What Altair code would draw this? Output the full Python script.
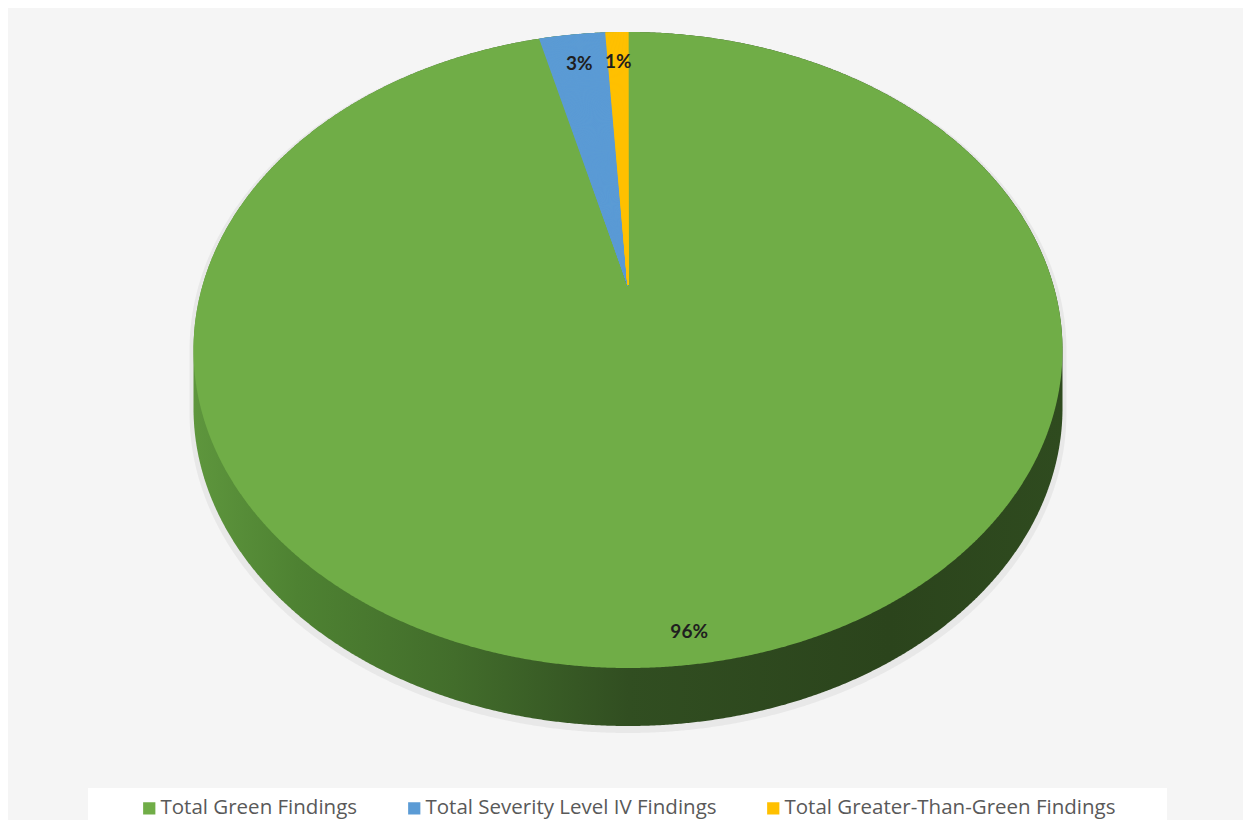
import altair as alt
import numpy as np
import pandas as pd

# ---------------- data ----------------
categories = ["Total Green Findings", "Total Severity Level IV Findings", "Total Greater-Than-Green Findings"]
values = [96, 3, 1]
colors = ["#70AD47", "#5B9BD5", "#FFC000"]

# ---------------- geometry of the tilted (perspective) pie, page pixels ----------------
CX = 628.0        # horizontal centre
APEX_Y = 285.0    # projected centre of the disc
TOP_Y = 32.0      # top of the top face
BOT_Y = 668.0     # bottom of the top face
HALF_W = 434.5    # half width of the top face
DEPTH = 58.0      # thickness of the disc

K = (2 * APEX_Y - TOP_Y - BOT_Y) / (TOP_Y - BOT_Y)
B = APEX_Y - TOP_Y * (1 + K)
A = HALF_W * np.sqrt(1 - K * K)
ECY = (TOP_Y + BOT_Y) / 2
EB = (BOT_Y - TOP_Y) / 2

W, H = 1235, 812
xs = alt.Scale(domain=[8, 8 + W], nice=False)
ys = alt.Scale(domain=[8, 8 + H], nice=False, reverse=True)
col_scale = alt.Scale(domain=categories, range=colors)

slices = pd.DataFrame({"category": categories, "value": values, "order": list(range(len(values)))})

# rays table built from the slice values (angles clockwise from 12 o'clock)
total = float(sum(values))
rows = []
cum = 0.0
for c, v in zip(categories, values):
    start = cum / total * 360.0
    cum += v
    end = cum / total * 360.0
    if v / total < 0.5:
        for t in np.arange(start, end + 1e-9, 0.1):
            rows.append({"category": c, "t": float(t)})
rays = pd.DataFrame(rows)

proj_x = f"{CX} + {A} * datum.r * sin(datum.a) / (1 + {K} * datum.r * cos(datum.a))"
proj_y = f"({APEX_Y} - {B} * datum.r * cos(datum.a)) / (1 + {K} * datum.r * cos(datum.a))"

ell = alt.sequence(-90, 90.001, 0.25, as_="phi")

# soft shadow
shadow = alt.Chart(ell).transform_calculate(
    p="datum.phi * PI / 180",
    X=f"{CX} + {HALF_W + 4} * sin(datum.p)",
    yt=f"{ECY} - {EB} * cos(datum.p)",
    yb=f"{ECY + DEPTH + 5} + {EB + 2} * cos(datum.p)",
).mark_area(color="#000000", opacity=0.05).encode(
    x=alt.X("X:Q", scale=xs, axis=None),
    y=alt.Y("yt:Q", scale=ys, axis=None),
    y2="yb:Q",
)

# side wall
wall = alt.Chart(ell).transform_calculate(
    p="datum.phi * PI / 180",
    X=f"{CX} + {HALF_W} * sin(datum.p)",
    yt=f"{ECY} - {EB} * cos(datum.p)",
    yb=f"{ECY + DEPTH} + {EB} * cos(datum.p)",
).mark_area(
    color=alt.Gradient(
        gradient="linear",
        stops=[
            alt.GradientStop(offset=0.0, color="#5E963D"),
            alt.GradientStop(offset=0.12, color="#4E8232"),
            alt.GradientStop(offset=0.3, color="#426D2B"),
            alt.GradientStop(offset=0.5, color="#314E21"),
            alt.GradientStop(offset=0.8, color="#2B441C"),
            alt.GradientStop(offset=1.0, color="#2F4B1F"),
        ],
        x1=0, x2=1, y1=0, y2=0,
    )
).encode(
    x=alt.X("X:Q", scale=xs, axis=None),
    y=alt.Y("yt:Q", scale=ys, axis=None),
    y2="yb:Q",
)

# top face (largest slice colour)
top = alt.Chart(ell).transform_calculate(
    p="datum.phi * PI / 180",
    X=f"{CX} + {HALF_W} * sin(datum.p)",
    yt=f"{ECY} - {EB} * cos(datum.p)",
    yb=f"{ECY} + {EB} * cos(datum.p)",
).mark_area(color=colors[0]).encode(
    x=alt.X("X:Q", scale=xs, axis=None),
    y=alt.Y("yt:Q", scale=ys, axis=None),
    y2="yb:Q",
)

# thin slices drawn as fans of rays from the projected centre
fans = alt.Chart(rays).transform_calculate(
    a="datum.t * PI / 180", r="1"
).transform_calculate(
    X=proj_x, Y=proj_y, ax=f"{CX}", ay=f"{APEX_Y}"
).mark_rule(strokeWidth=1.3).encode(
    x=alt.X("X:Q", scale=xs, axis=None),
    y=alt.Y("Y:Q", scale=ys, axis=None),
    x2="ax:Q",
    y2="ay:Q",
    color=alt.Color("category:N", scale=col_scale, legend=None),
)

# percentage labels
labels = alt.Chart(slices).transform_joinaggregate(
    total="sum(value)"
).transform_window(
    cum="sum(value)", sort=[alt.SortField("order")]
).transform_calculate(
    a="(datum.cum - datum.value / 2) / datum.total * 2 * PI",
    r="datum.value / datum.total > 0.5 ? 0.931 : 0.86",
    lab="format(datum.value / datum.total, '.0%')",
).transform_calculate(
    X=proj_x, Y=proj_y
).mark_text(font="Lato", fontWeight="bold", fontSize=19, color="#1F1F1F").encode(
    x=alt.X("X:Q", scale=xs, axis=None),
    y=alt.Y("Y:Q", scale=ys, axis=None),
    text="lab:N",
)

# legend background strip
legend_box = alt.Chart(alt.Data(values=[{}])).mark_rect(color="#ffffff").encode(
    x=alt.value(80), x2=alt.value(1159), y=alt.value(780), y2=alt.value(H)
)

# legend carrier (zero-size squares)
legend_layer = alt.Chart(slices).mark_square(size=0).encode(
    x=alt.datum(CX, scale=xs, axis=None),
    y=alt.datum(APEX_Y, scale=ys, axis=None),
    fill=alt.Fill(
        "category:N",
        scale=col_scale,
        sort=categories,
        legend=alt.Legend(
            orient="none",
            legendX=131,
            legendY=790,
            direction="horizontal",
            title=None,
            symbolType="square",
            symbolSize=150,
            symbolStrokeWidth=0,
            symbolOpacity=1,
            labelFont="Open Sans",
            labelFontSize=20.5,
            labelColor="#595959",
            labelOffset=1,
            columnPadding=46,
            padding=0,
            labelLimit=500,
        ),
    ),
)

chart = alt.layer(shadow, wall, top, fans, labels, legend_box, legend_layer).resolve_scale(
    color="independent", fill="independent"
).properties(
    width=W,
    height=H,
    padding=0,
    autosize=alt.AutoSizeParams(type="none"),
    background="#F5F5F5",
).configure_view(strokeWidth=0)

chart.save("out.html", embed_options={"renderer": "svg", "actions": False})
